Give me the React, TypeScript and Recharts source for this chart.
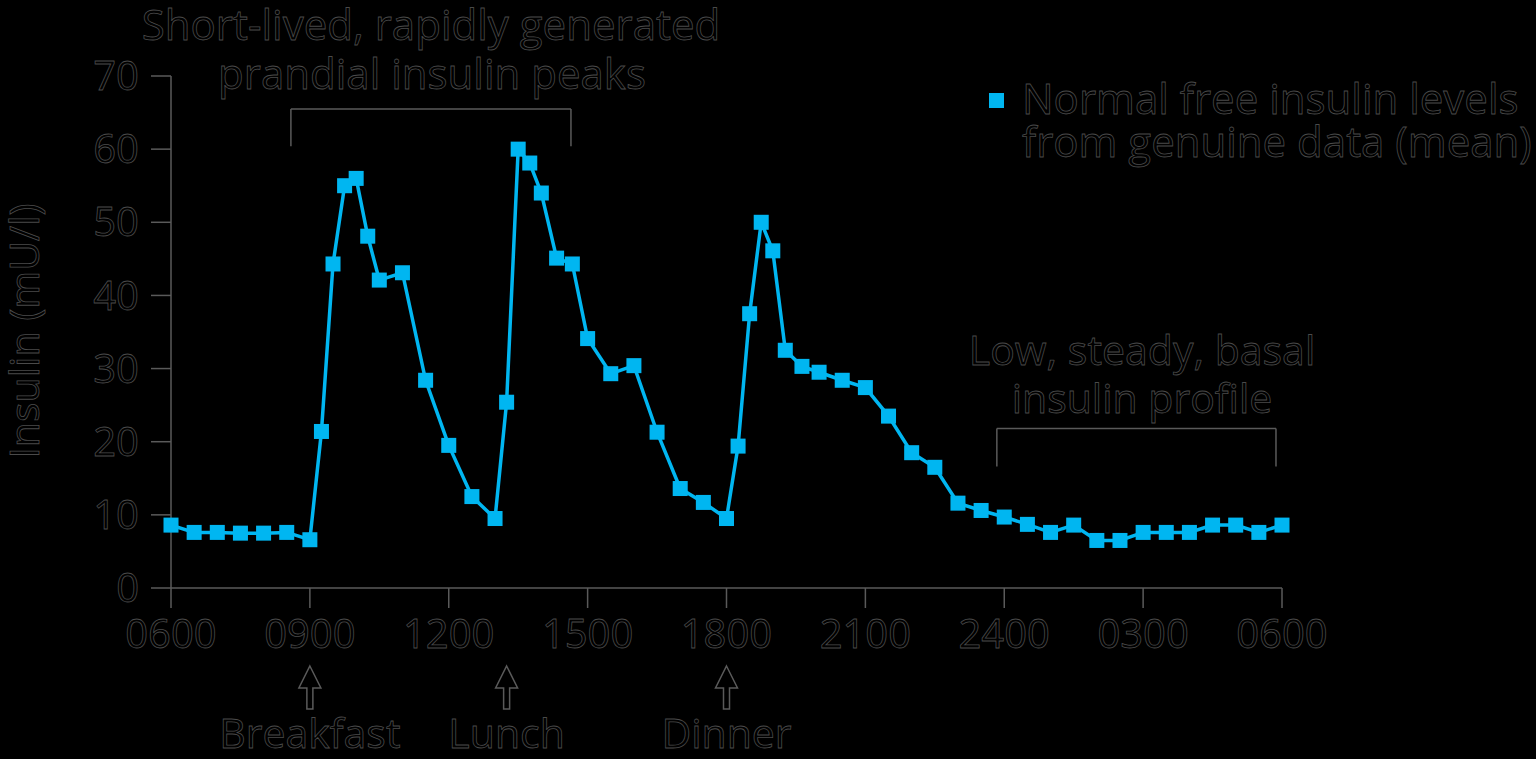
import { LineChart, Line, XAxis, YAxis, ReferenceLine } from "recharts"

// hours after 06:00 and mean free insulin (mU/l)
const HOURS = [
  0, 0.5, 1, 1.5, 2, 2.5, 3, 3.25, 3.5, 3.75, 4, 4.25, 4.5, 5, 5.5, 6, 6.5, 7,
  7.25, 7.5, 7.75, 8, 8.33, 8.67, 9, 9.5, 10, 10.5, 11, 11.5, 12, 12.25, 12.5,
  12.75, 13, 13.27, 13.63, 14, 14.5, 15, 15.5, 16, 16.5, 17, 17.5, 18, 18.5, 19,
  19.5, 20, 20.5, 21, 21.5, 22, 22.5, 23, 23.5, 24,
]
const INSULIN = [
  8.6, 7.6, 7.6, 7.5, 7.5, 7.6, 6.6, 21.4, 44.3, 55, 56, 48.1, 42.1, 43.1, 28.4,
  19.5, 12.5, 9.5, 25.4, 60, 58.1, 54, 45.1, 44.3, 34.1, 29.3, 30.4, 21.3, 13.6,
  11.7, 9.5, 19.4, 37.5, 50, 46.1, 32.5, 30.3, 29.5, 28.4, 27.4, 23.5, 18.5,
  16.5, 11.6, 10.6, 9.7, 8.7, 7.6, 8.6, 6.5, 6.5, 7.6, 7.6, 7.6, 8.6, 8.6, 7.6,
  8.6,
]
const X_TICKS = [0, 3, 6, 9, 12, 15, 18, 21, 24]
const X_LABELS = ["0600", "0900", "1200", "1500", "1800", "2100", "2400", "0300", "0600"]
const Y_TICKS = [0, 10, 20, 30, 40, 50, 60, 70]
const MEALS = ["Breakfast", "Lunch", "Dinner"]
const MEAL_HOURS = [3, 7.25, 12]

const data = HOURS.map((h, i) => ({ h, v: INSULIN[i] }))

const BLUE = "#00b6f1"
const GREY = "#5a5a5a"
const FONT = "'Open Sans', sans-serif"
const textStyle = { fill: "#000", stroke: "#4a4a4a", strokeWidth: 0.8 }

// plot area in px, for the overlay annotations
const PX0 = 171
const PX_PER_H = (1282 - 171) / 24

const SquareDot = (props: any) => {
  const { cx, cy, index } = props
  return <rect key={index} x={cx - 7.5} y={cy - 7.5} width={15} height={15} fill={BLUE} />
}

export default function App() {
  return (
    <div style={{ position: "absolute", left: 0, top: 0, width: 1536, height: 759, background: "#000" }}>
      <LineChart
        width={1536}
        height={759}
        data={data}
        margin={{ top: 76, right: 254, bottom: 111, left: 91 }}
      >
        <XAxis
          dataKey="h"
          type="number"
          domain={[0, 24]}
          ticks={X_TICKS}
          tickFormatter={(v) => X_LABELS[X_TICKS.indexOf(v)]}
          height={60}
          tickSize={20}
          tickMargin={12}
          stroke={GREY}
          strokeWidth={1.5}
          tick={{ ...textStyle, fontSize: 40, fontFamily: FONT }}
        />
        <YAxis
          domain={[0, 70]}
          ticks={Y_TICKS}
          width={80}
          tickSize={20}
          tickMargin={12}
          stroke={GREY}
          strokeWidth={1.5}
          tick={{ ...textStyle, fontSize: 40, fontFamily: FONT }}
        />
        {/* brackets */}
        <ReferenceLine segment={[{ x: 2.59, y: 65.5 }, { x: 8.64, y: 65.5 }]} stroke={GREY} strokeWidth={1.5} />
        <ReferenceLine segment={[{ x: 2.59, y: 65.5 }, { x: 2.59, y: 60.4 }]} stroke={GREY} strokeWidth={1.5} />
        <ReferenceLine segment={[{ x: 8.64, y: 65.5 }, { x: 8.64, y: 60.4 }]} stroke={GREY} strokeWidth={1.5} />
        <ReferenceLine segment={[{ x: 17.84, y: 21.8 }, { x: 23.87, y: 21.8 }]} stroke={GREY} strokeWidth={1.5} />
        <ReferenceLine segment={[{ x: 17.84, y: 21.8 }, { x: 17.84, y: 16.6 }]} stroke={GREY} strokeWidth={1.5} />
        <ReferenceLine segment={[{ x: 23.87, y: 21.8 }, { x: 23.87, y: 16.6 }]} stroke={GREY} strokeWidth={1.5} />
        <Line
          dataKey="v"
          stroke={BLUE}
          strokeWidth={3.5}
          dot={SquareDot}
          activeDot={false}
          isAnimationActive={false}
        />
      </LineChart>

      <svg
        width={1536}
        height={759}
        style={{ position: "absolute", left: 0, top: 0, pointerEvents: "none" }}
        fontFamily={FONT}
      >
        <g {...textStyle} fontSize={42} textAnchor="middle">
          <text x={431} y={40}>Short-lived, rapidly generated</text>
          <text x={432} y={89}>prandial insulin peaks</text>
        </g>
        <g {...textStyle} fontSize={41} textAnchor="middle">
          <text x={1142} y={365}>Low, steady, basal</text>
          <text x={1142} y={413}>insulin profile</text>
          <text transform="translate(39,331) rotate(-90)">Insulin (mU/l)</text>
        </g>

        {/* legend */}
        <rect x={989} y={93} width={15} height={15} fill={BLUE} />
        <g {...textStyle} fontSize={42}>
          <text x={1022} y={114}>Normal free insulin levels</text>
          <text x={1022} y={157}>from genuine data (mean)</text>
        </g>

        {/* meal arrows */}
        {MEALS.map((m, i) => {
          const x = PX0 + MEAL_HOURS[i] * PX_PER_H
          return (
            <g key={m}>
              <path
                d={`M${x},666 L${x + 11},688 L${x + 3},688 L${x + 3},709 L${x - 3},709 L${x - 3},688 L${x - 11},688 Z`}
                fill="#000"
                stroke={GREY}
                strokeWidth={1.5}
              />
              <text x={x} y={748} textAnchor="middle" fontSize={41} {...textStyle}>
                {m}
              </text>
            </g>
          )
        })}
      </svg>
    </div>
  )
}
